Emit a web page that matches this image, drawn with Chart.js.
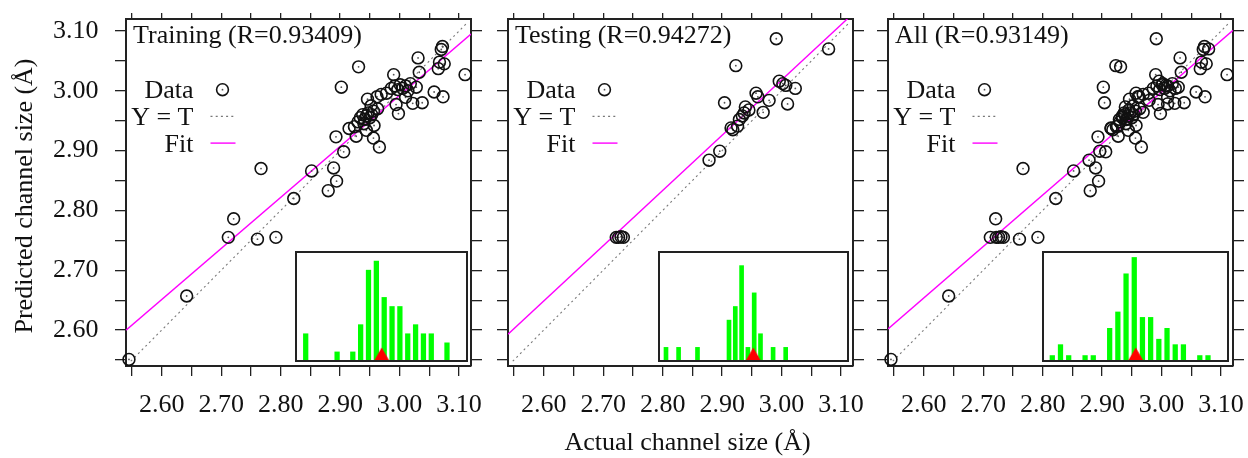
<!DOCTYPE html>
<html>
<head>
<meta charset="utf-8">
<script src="https://cdn.jsdelivr.net/npm/chart.js@4.4.1/dist/chart.umd.min.js"></script>
<style>
  html, body { margin: 0; padding: 0; background: #fff; }
  #fig { position: relative; width: 1248px; height: 458px; overflow: hidden; background: #fff; }
  #fig canvas { position: absolute; top: 0; }
</style>
</head>
<body>
<div id="fig">
  <canvas id="main0" width="1248" height="458" style="left:0"></canvas>
  <canvas id="main1" width="1248" height="458" style="left:0"></canvas>
  <canvas id="main2" width="1248" height="458" style="left:0"></canvas>
  <canvas id="hist0" width="173" height="111" style="left:295px;top:251px"></canvas>
  <canvas id="hist1" width="191" height="111" style="left:658px;top:251px"></canvas>
  <canvas id="hist2" width="187" height="111" style="left:1042px;top:251px"></canvas>
</div>
<script>
// ---- channel sizes (Å): actual vs. predicted ----
const trainActual = [2.545, 2.642, 2.712, 2.721, 2.761, 2.767, 2.792, 2.822, 2.852, 2.880,
  2.889, 2.894, 2.893, 2.906, 2.902, 2.915, 2.924, 2.927, 2.931, 2.944,
  2.956, 2.966, 2.946, 2.962, 2.969, 2.963, 2.990, 2.998, 2.994, 3.010,
  3.022, 3.028, 3.038, 3.033, 3.031, 3.058, 3.073, 3.065, 3.067, 3.075,
  3.070, 3.072, 3.110,
  2.930, 2.934, 2.938, 2.941, 2.944, 2.947, 2.950, 2.953, 2.940, 2.956,
  2.986, 2.992, 2.997, 3.001, 3.005, 3.010, 3.014,
  2.978, 2.952, 3.018, 2.957];
const trainPredicted = [2.551, 2.657, 2.755, 2.786, 2.752, 2.870, 2.755, 2.820, 2.866, 2.833,
  2.871, 2.849, 2.923, 2.898, 3.006, 2.937, 2.940, 2.924, 3.040, 2.934,
  2.921, 2.906, 2.986, 2.990, 2.994, 2.970, 3.027, 2.962, 2.977, 2.989,
  2.979, 3.006, 2.980, 3.031, 3.055, 2.998, 2.990, 3.037, 3.048, 3.045,
  3.069, 3.074, 3.027,
  2.948, 2.955, 2.960, 2.952, 2.958, 2.963, 2.955, 2.960, 2.945, 2.966,
  3.004, 3.008, 3.002, 3.010, 3.004, 3.008, 3.000,
  2.996, 2.975, 3.012, 2.942];

const testActual = [2.722, 2.726, 2.730, 2.734, 2.878, 2.896, 2.904, 2.915, 2.918, 2.926,
  2.929, 2.923, 2.937, 2.939, 2.957, 2.960, 2.969, 2.979, 2.996, 3.007,
  3.023, 3.010, 2.991, 3.079, 2.934, 2.945, 3.002];
const testPredicted = [2.755, 2.755, 2.756, 2.755, 2.884, 2.899, 2.980, 2.938, 2.935, 2.941,
  2.952, 3.042, 2.963, 2.973, 2.996, 2.990, 2.964, 2.984, 3.016, 3.009,
  3.004, 2.978, 3.087, 3.070, 2.958, 2.968, 3.012];

const allActual = trainActual.concat(testActual);
const allPredicted = trainPredicted.concat(testPredicted);

// ---- linear fits, as [start, end] points (actual, predicted) ----
const trainFit = [[2.54, 2.600], [3.12, 3.095]];
const testFit  = [[2.54, 2.593], [3.12, 3.129]];
const allFit   = [[2.54, 2.602], [3.12, 3.101]];
const identityLine = [[2.548, 2.548], [3.115, 3.115]];

// ---- inset histograms: counts per bin, plus mean marker (in bin units) ----
const trainHist = [3, 0, 0, 0, 1, 0, 1, 4, 10, 11, 7, 6, 6, 3, 4, 3, 3, 0, 2];
const testHist  = [1, 0, 1, 0, 0, 1, 0, 0, 0, 0, 3, 4, 7, 1, 5, 2, 0, 1, 0, 1];
const allHist   = [1, 3, 1, 0, 1, 1, 0, 6, 9, 16, 19, 8, 8, 4, 6, 3, 3, 0, 1, 1];
const histMean  = [9.68, 13.86, 10.18];

// ---- axis ticks ----
const tickValues = [2.55, 2.60, 2.65, 2.70, 2.75, 2.80, 2.85, 2.90, 2.95, 3.00, 3.05, 3.10];
const tickLabels = ['', '2.60', '', '2.70', '', '2.80', '', '2.90', '', '3.00', '', '3.10'];

const panelTitles = ['Training (R=0.93409)', 'Testing (R=0.94272)', 'All (R=0.93149)'];
const xTitle = 'Actual channel size (Å)';
const yTitle = 'Predicted channel size (Å)';

// ---- layout ----
const FONT = 'Liberation Serif';
const INK = '#111';
const AXIS = '#222';
const W = 1248, H = 458;
const plotLeft = [126, 508, 888];
const plotWidth = 345;
const plotTop = 19, plotBottom = 366;
const RANGE = [2.54, 3.12];
const histRange = [[-1.236, 20.55, 12], [-1.11, 28.89, 8], [-1.135, 21.44, 20]];
const barWidth = [4.6, 4.0, 4.6];
const xTitlePos = [687.5, 443];
const yTitlePos = [25.5, 196];

Chart.defaults.font.family = FONT;
Chart.defaults.color = INK;

const toPts = (xs, ys) => xs.map((x, i) => ({ x: x, y: ys[i] }));
const pairPts = (pairs) => pairs.map(p => ({ x: p[0], y: p[1] }));

function setTicks(scale) {
  scale.ticks = tickValues.map(v => ({ value: v }));
}
function tickLabel(value) {
  const i = tickValues.findIndex(v => Math.abs(v - value) < 1e-9);
  return i >= 0 ? tickLabels[i] : '';
}
// fixed axis boxes, so every panel frame lands at the same place
function fixHeight(h) {
  return s => { s.height = h; s.paddingLeft = 0; s.paddingRight = 0; s.paddingTop = 0; s.paddingBottom = 0; };
}
function fixWidth(w) {
  return s => { s.width = w; s.paddingLeft = 0; s.paddingRight = 0; s.paddingTop = 0; s.paddingBottom = 0; };
}

// Panel title, key and figure axis titles
const panelTextPlugin = {
  id: 'panelText',
  afterDatasetsDraw(chart, args, opts) {
    const { ctx, chartArea: a } = chart;
    ctx.save();
    ctx.font = '26px "' + FONT + '"';
    ctx.fillStyle = INK;
    ctx.textBaseline = 'alphabetic';
    ctx.textAlign = 'left';
    ctx.fillText(opts.title, a.left + 7, a.top + 24.3);

    const rows = chart.data.datasets.filter(d => d.keyRow !== undefined)
      .sort((p, q) => p.keyRow - q.keyRow);
    ctx.textAlign = 'right';
    rows.forEach((d, i) => {
      const base = a.top + 79.3 + i * 26.7;
      ctx.fillStyle = INK;
      ctx.fillText(d.label, a.left + 67.5, base);
      const cy = base - 8.6;
      if (d.type === 'line') {
        ctx.beginPath();
        ctx.strokeStyle = d.borderColor;
        ctx.lineWidth = d.borderWidth;
        ctx.setLineDash(d.borderDash || []);
        ctx.moveTo(a.left + 84.5, cy);
        ctx.lineTo(a.left + 109.5, cy);
        ctx.stroke();
        ctx.setLineDash([]);
      } else {
        ctx.beginPath();
        ctx.strokeStyle = d.pointBorderColor;
        ctx.lineWidth = d.pointBorderWidth;
        ctx.arc(a.left + 96.5, cy, d.pointRadius, 0, Math.PI * 2);
        ctx.stroke();
        ctx.beginPath();
        ctx.fillStyle = '#555';
        ctx.arc(a.left + 96.5, cy, 0.9, 0, Math.PI * 2);
        ctx.fill();
      }
    });

    ctx.fillStyle = INK;
    ctx.textAlign = 'center';
    ctx.textBaseline = 'middle';
    if (opts.xTitle) {
      ctx.fillText(opts.xTitle, xTitlePos[0], xTitlePos[1]);
    }
    if (opts.yTitle) {
      ctx.translate(yTitlePos[0], yTitlePos[1]);
      ctx.rotate(-Math.PI / 2);
      ctx.fillText(opts.yTitle, 0, 0);
    }
    ctx.restore();
  }
};

function tickGrid(len) {
  return { display: true, drawOnChartArea: false, drawTicks: true, tickLength: len, color: AXIS, lineWidth: 1.3 };
}
const frameBorder = { display: true, color: AXIS, width: 2 };

function mainChart(idx, xs, ys, fit) {
  const pts = toPts(xs, ys);
  const left = plotLeft[idx], right = left + plotWidth;
  return new Chart(document.getElementById('main' + idx), {
    type: 'scatter',
    data: {
      datasets: [
        { label: 'Data', keyRow: 0, data: pts, pointStyle: 'circle', pointRadius: 5.9,
          pointBorderWidth: 1.6, pointBorderColor: INK, pointBackgroundColor: 'rgba(0,0,0,0)',
          clip: false, order: 0 },
        { label: 'centre', data: pts, pointRadius: 0.9, pointBorderWidth: 0,
          pointBackgroundColor: '#555', clip: false, order: 1 },
        { label: 'Fit', keyRow: 2, type: 'line', data: pairPts(fit), borderColor: '#ff00ff',
          borderWidth: 1.4, pointRadius: 0, order: 2 },
        { label: 'Y = T', keyRow: 1, type: 'line', data: pairPts(identityLine), borderColor: '#777',
          borderWidth: 1.1, borderDash: [2, 3.2], pointRadius: 0, order: 3 }
      ]
    },
    options: {
      responsive: false, animation: false, devicePixelRatio: 1, events: [],
      layout: { padding: 0, autoPadding: false },
      plugins: { legend: { display: false }, tooltip: { enabled: false },
                 panelText: { title: panelTitles[idx],
                              xTitle: idx === 1 ? xTitle : '',
                              yTitle: idx === 0 ? yTitle : '' } },
      scales: {
        x: {
          type: 'linear', position: 'bottom', min: RANGE[0], max: RANGE[1],
          afterBuildTicks: setTicks,
          afterFit: fixHeight(H - plotBottom),
          ticks: { display: true, callback: tickLabel, autoSkip: false, maxRotation: 0, minRotation: 0,
                   padding: 14, color: INK, font: { size: 26 } },
          grid: tickGrid(10), border: frameBorder
        },
        x2: {
          type: 'linear', position: 'top', min: RANGE[0], max: RANGE[1],
          afterBuildTicks: setTicks,
          afterFit: fixHeight(plotTop),
          ticks: { display: false }, grid: tickGrid(6), border: frameBorder
        },
        y: {
          type: 'linear', position: 'left', min: RANGE[0], max: RANGE[1],
          afterBuildTicks: setTicks,
          afterFit: fixWidth(left),
          ticks: { display: idx === 0, callback: tickLabel, autoSkip: false, padding: 16.5,
                   color: INK, font: { size: 26 } },
          grid: tickGrid(11), border: frameBorder
        },
        y2: {
          type: 'linear', position: 'right', min: RANGE[0], max: RANGE[1],
          afterBuildTicks: setTicks,
          afterFit: fixWidth(W - right),
          ticks: { display: false }, grid: tickGrid(11), border: frameBorder
        }
      }
    },
    plugins: [panelTextPlugin]
  });
}

// Red marker glyph whose base sits on the point (lower half left empty)
function triangleGlyph() {
  const c = document.createElement('canvas');
  c.width = 16; c.height = 28;
  const g = c.getContext('2d');
  g.fillStyle = '#ff0000';
  g.beginPath();
  g.moveTo(0.2, 14);
  g.lineTo(15.8, 14);
  g.lineTo(8, 0.5);
  g.closePath();
  g.fill();
  return c;
}
const marker = triangleGlyph();

const insetFrame = {
  id: 'insetFrame',
  beforeDraw(chart) {
    const { ctx, width, height } = chart;
    ctx.save();
    ctx.fillStyle = '#fff';
    ctx.fillRect(0, 0, width, height);
    ctx.restore();
  },
  afterDatasetsDraw(chart) {
    const { ctx, chartArea: a } = chart;
    ctx.save();
    ctx.strokeStyle = AXIS;
    ctx.lineWidth = 2;
    ctx.strokeRect(a.left, a.top, a.right - a.left, a.bottom - a.top);
    ctx.restore();
  }
};

function histChart(idx, counts) {
  const bars = counts.map((c, i) => ({ x: i, y: c })).filter(p => p.y > 0);
  const r = histRange[idx];
  return new Chart(document.getElementById('hist' + idx), {
    type: 'bar',
    data: {
      datasets: [
        { type: 'scatter', data: [{ x: histMean[idx], y: 0 }], pointStyle: marker,
          pointRadius: 8, clip: false, order: 0 },
        { type: 'bar', data: bars, backgroundColor: '#00ff00', borderWidth: 0,
          barThickness: barWidth[idx], order: 1 }
      ]
    },
    options: {
      responsive: false, animation: false, devicePixelRatio: 1, events: [],
      layout: { padding: 1, autoPadding: false },
      plugins: { legend: { display: false }, tooltip: { enabled: false } },
      scales: {
        x: { type: 'linear', min: r[0], max: r[1], offset: false, grid: { offset: false }, display: false },
        y: { type: 'linear', min: 0, max: r[2], display: false }
      }
    },
    plugins: [insetFrame]
  });
}

mainChart(0, trainActual, trainPredicted, trainFit);
mainChart(1, testActual, testPredicted, testFit);
mainChart(2, allActual, allPredicted, allFit);
histChart(0, trainHist);
histChart(1, testHist);
histChart(2, allHist);
</script>
</body>
</html>
